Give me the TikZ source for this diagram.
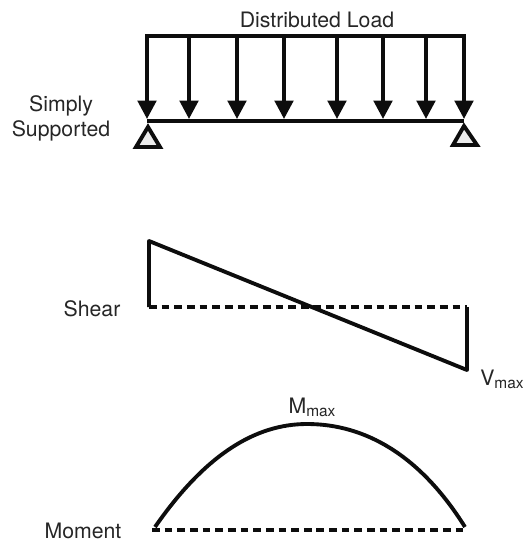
\documentclass[tikz,border=0pt]{standalone}
\usepackage{fontspec}
\setmainfont{TeX Gyre Heros}
\usetikzlibrary{arrows.meta,shadows}
\tikzset{
  member/.style={line width=2.2pt,black!95},
  load/.style={member,-{Triangle[length=10.5pt,width=10.5pt]}},
  base/.style={member,dash pattern=on 4.4pt off 2.8pt},
  support/.style={line width=2.2pt,black!95,fill=black!8,line join=miter,drop shadow={shadow xshift=0pt,shadow yshift=-1pt,opacity=0.25}},
  caption/.style={inner sep=0pt,text=black!85,font=\fontsize{12.1pt}{14.3pt}\selectfont}
}
\newcommand{\Sub}[1]{\raisebox{-0.25ex}{\fontsize{8.8pt}{9pt}\selectfont #1}}
\begin{document}
\begin{tikzpicture}[x=0.02cm,y=-0.02cm]
	  \useasboundingbox (0,0) rectangle (524,541);

	  % Define nodes
	  \node[caption] (load) at (317,20) {Distributed Load};
	  \node[caption,align=center] (simply) at (61,118) {Simply\\Supported};
	  \node[caption] (shear) at (92,309) {Shear};
	  \node[caption] (vmax) at (502,379) {V\Sub{max}};
	  \node[caption] (mmax) at (312,407) {M\Sub{max}};
	  \node[caption] (moment) at (83,531) {Moment};

	  \coordinate (beamL) at (147,121);
	  \coordinate (beamR) at (464,121);
	  \coordinate (shearA) at (149,241);
	  \coordinate (shearB) at (149,307);
	  \coordinate (shearC) at (467,307);
	  \coordinate (shearD) at (467,370);
	  \coordinate (momA) at (155,527);
	  \coordinate (momB) at (465,527);
	  \coordinate (momC) at (307,424);
	  \coordinate (momL) at (152,530);
	  \coordinate (momR) at (468,530);

	  % Supports
	  \draw[support] (148,127) -- (160,147) -- (136,147) -- cycle;
	  \draw[support] (464,126) -- (477,145) -- (453,145) -- cycle;

	  % Load and beam
	  \draw[member] (beamL) -- (beamR);
	  \draw[member,line cap=rect] (147,36) coordinate (topL) -- (464,36) coordinate (topR);
	  \foreach \x in {147,189,237,284,337,383,426,464}
	    \draw[load] (\x,36) -- (\x,119);

	  % Shear
	  \draw[member,line join=round] (shearB) -- (shearA) -- (shearD) -- (shearC);
	  \draw[base] (shearB) -- (shearC);

	  % Moment
	  \draw[member] (momA) .. controls (205,455) and (255,424) .. (momC)
	    .. controls (365,424) and (420,455) .. (momB);
	  \draw[base] (momL) -- (momR);
	\end{tikzpicture}
\end{document}
